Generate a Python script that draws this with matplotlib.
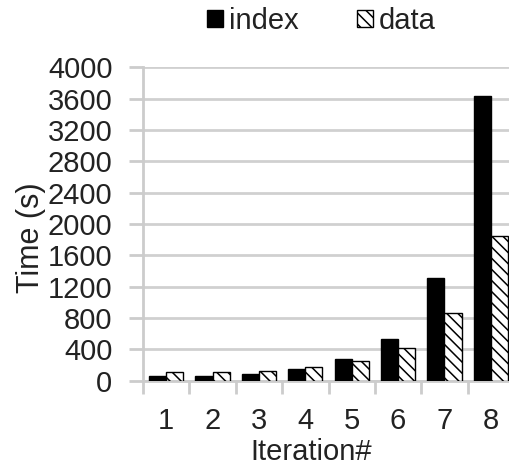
import matplotlib
matplotlib.use("Agg")
import matplotlib.pyplot as plt
import numpy as np

plt.rcParams['font.family'] = ['Liberation Sans', 'DejaVu Sans']
plt.rcParams['hatch.linewidth'] = 1.1

iterations = ["1", "2", "3", "4", "5", "6", "7", "8"]
index_time = [55, 60, 85, 148, 283, 535, 1312, 3640]
data_time = [105, 106, 126, 169, 252, 421, 858, 1851]
yticks = list(range(0, 4001, 400))

W, H = 509, 469
fig = plt.figure(figsize=(W / 100, H / 100), dpi=100)
# axes run a little past the right edge of the image, as in the original
ax = fig.add_axes([143 / W, 1 - 380.7 / H, 371 / W, 313.4 / H])

x = np.arange(len(iterations))
barWidth = 0.37
ax.bar(x - barWidth / 2, index_time, width=barWidth, color='black',
       edgecolor='black', linewidth=1, label="index", zorder=3)
ax.bar(x + barWidth / 2, data_time, width=barWidth, color='white',
       edgecolor='black', hatch='\\\\\\', linewidth=1, label="data", zorder=3)

ax.set_ylim(0, 4000)
ax.set_xlim(-0.5, len(iterations) - 0.5)
ax.set_yticks(yticks)
ax.set_xticks(x)
ax.set_xticklabels(iterations)
ax.tick_params(axis='both', labelsize=21, labelcolor='#222222')
ax.tick_params(axis='x', length=0, pad=19)
ax.tick_params(axis='y', length=10, color='#cccccc', width=2, pad=12)
# category separators below the axis
ax.set_xticks(np.arange(len(iterations) + 1) - 0.5, minor=True)
ax.tick_params(axis='x', which='minor', length=9, color='#cccccc', width=2)

ax.grid(axis='y', color='#d0d0d0', linewidth=2, zorder=0)
for s in ['top', 'right']:
    ax.spines[s].set_visible(False)
for s in ['left', 'bottom']:
    ax.spines[s].set_color('#cccccc')
    ax.spines[s].set_linewidth(2)

ax.set_xlabel("Iteration#", fontsize=21, labelpad=2, color='#222222', x=0.454)
ax.set_ylabel("Time (s)", fontsize=22, labelpad=1, color='#222222', y=0.455)

fig.legend(*ax.get_legend_handles_labels(), loc='center',
           bbox_to_anchor=(321 / W, 1 - 21 / H), ncol=2, frameon=False,
           fontsize=21, handlelength=0.55, handleheight=0.55, handletextpad=0.2,
           columnspacing=2.0, borderaxespad=0, labelcolor='#222222')

fig.savefig("out.png", dpi=100)
